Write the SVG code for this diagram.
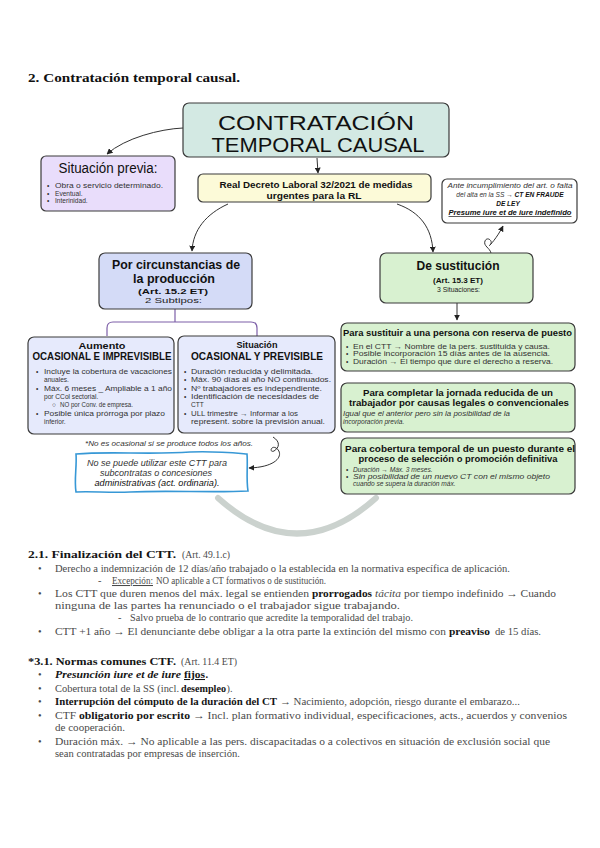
<svg xmlns="http://www.w3.org/2000/svg" width="600" height="848" viewBox="0 0 600 848">
<defs>
<marker id="ah" viewBox="0 0 10 10" refX="9" refY="5" markerWidth="6" markerHeight="6" orient="auto"><path d="M0,0 L10,5 L0,10 z" fill="#222"/></marker>
<style>
.bx{stroke:#3b3b3b;stroke-width:1.2}
.s{font-family:"Liberation Sans",Arial,sans-serif}
.t{font-family:"Liberation Sans",Arial,sans-serif;font-weight:700;fill:#111}
.sm{font-family:"Liberation Sans",Arial,sans-serif;font-size:6.6px;fill:#333}
.c{text-anchor:middle}
.i{font-style:italic}
.b{font-weight:700}
.con{fill:none;stroke:#333;stroke-width:1}
.sf{font-family:"Liberation Serif","Times New Roman",serif;font-size:10.4px;fill:#4a4a4a}
.sb{font-family:"Liberation Serif","Times New Roman",serif;font-size:10.4px;font-weight:700;fill:#151515}
.h{font-family:"Liberation Serif","Times New Roman",serif;font-size:11.3px;font-weight:700;fill:#151515}
.u{text-decoration:underline}
</style>
</defs>
<rect width="600" height="848" fill="#fff"/>

<text x="28" y="82" class="sf" style="font-size:13px;font-weight:700;fill:#111" textLength="212" lengthAdjust="spacingAndGlyphs">2. Contratación temporal causal.</text>

<g id="connectors">
<path class="con" d="M183,128 C160,129 125,138 107,154" marker-end="url(#ah)"/>
<path class="con" d="M317,158 L318,173" marker-end="url(#ah)"/>
<path class="con" d="M228,204 C206,214 193,230 192,251" marker-end="url(#ah)"/>
<path class="con" d="M397,204 C420,212 432,228 433,252" marker-end="url(#ah)"/>
<path class="con" d="M491,253 C490,248 483,246 485,241 C487,236 494,241 490,245 C487,248 496,240 503,226" marker-end="url(#ah)"/>
<path class="con" d="M457,303 L457,320" marker-end="url(#ah)"/>
<path fill="none" stroke="#7d5fa8" stroke-width="1.2" d="M175,309 L175,322 M107,336 L107,328 Q107,322 113,322 L251,322 Q257,322 257,328 L257,336"/>
<path class="con" d="M273,437 C281,442 279,448 274,451 C269,453 271,445 276,448 C284,453 280,467 249,468" marker-end="url(#ah)"/>
<path fill="none" stroke="#cbd2ce" stroke-width="6" stroke-linecap="round" d="M218,498 Q297,569 376,498"/>
</g>

<g id="main">
<rect class="bx" x="183" y="103" width="266" height="54" rx="6" fill="#d3e9e3"/>
<text class="s c" x="316" y="129.5" style="font-size:20px" fill="#111" textLength="196" lengthAdjust="spacingAndGlyphs">CONTRATACIÓN</text>
<text class="s c" x="318" y="152" style="font-size:20px" fill="#111" textLength="213" lengthAdjust="spacingAndGlyphs">TEMPORAL CAUSAL</text>
</g>

<g id="previa">
<rect class="bx" x="41" y="156" width="134" height="55" rx="5" fill="#e9ddfb"/>
<text class="s c" x="108" y="173" style="font-size:14px" fill="#111" textLength="99" lengthAdjust="spacingAndGlyphs">Situación previa:</text>
<text class="sm" x="47" y="188">•</text><text class="sm" x="55" y="188" textLength="108" lengthAdjust="spacingAndGlyphs">Obra o servicio determinado.</text>
<text class="sm" x="47" y="195.5">•</text><text class="sm" x="55" y="195.5">Eventual.</text>
<text class="sm" x="47" y="203">•</text><text class="sm" x="55" y="203">Interinidad.</text>
</g>

<g id="rd">
<rect class="bx" x="198" y="174" width="233" height="28" rx="5" fill="#fcfad8"/>
<text class="t c" x="316" y="188.3" style="font-size:9px" textLength="193" lengthAdjust="spacingAndGlyphs">Real Decreto Laboral 32/2021 de medidas</text>
<text class="t c" x="314" y="198.5" style="font-size:9px" textLength="95" lengthAdjust="spacingAndGlyphs">urgentes para la RL</text>
</g>

<g id="nota">
<rect class="bx" x="442" y="179" width="135" height="44" rx="5" fill="#fff"/>
<text class="s c i" x="510" y="187.5" style="font-size:6.5px" fill="#333" textLength="125" lengthAdjust="spacingAndGlyphs">Ante incumplimiento del art. o falta</text>
<text class="s c i" x="510" y="196.5" style="font-size:6.6px" fill="#333">del alta en la SS → <tspan class="b" fill="#111">CT EN FRAUDE</tspan></text>
<text class="s c i b" x="508" y="205.5" style="font-size:6.5px" fill="#111">DE LEY</text>
<text class="s c i b u" x="510" y="215" style="font-size:6.8px" fill="#111" textLength="123" lengthAdjust="spacingAndGlyphs">Presume iure et de iure indefinido</text>
</g>

<g id="produccion">
<rect class="bx" x="99" y="253" width="153" height="56" rx="6" fill="#d4dbf7"/>
<text class="t c" x="176" y="269" style="font-size:12px" textLength="128" lengthAdjust="spacingAndGlyphs">Por circunstancias de</text>
<text class="t c" x="174" y="282.5" style="font-size:12px" textLength="82" lengthAdjust="spacingAndGlyphs">la producción</text>
<text class="s c b" x="173" y="294" style="font-size:8px" fill="#111" textLength="70" lengthAdjust="spacingAndGlyphs">(Art. 15.2 ET)</text>
<text class="s c" x="173.5" y="303" style="font-size:8px" fill="#222" textLength="57" lengthAdjust="spacingAndGlyphs">2 Subtipos:</text>
</g>

<g id="aumento">
<rect class="bx" x="28" y="337" width="146" height="97" rx="6" fill="#e6eafc"/>
<text class="t c" x="102" y="349" style="font-size:8.5px" textLength="47" lengthAdjust="spacingAndGlyphs">Aumento</text>
<text class="t c" x="102" y="360" style="font-size:10px" textLength="139" lengthAdjust="spacingAndGlyphs">OCASIONAL E IMPREVISIBLE</text>
<text class="sm" x="36" y="374">•</text><text class="sm" x="44" y="374" textLength="128" lengthAdjust="spacingAndGlyphs">Incluye la cobertura de vacaciones</text>
<text class="sm" x="44" y="382.3">anuales.</text>
<text class="sm" x="36" y="390.7">•</text><text class="sm" x="44" y="390.7" textLength="128" lengthAdjust="spacingAndGlyphs">Máx. 6 meses _ Ampliable a 1 año</text>
<text class="sm" x="44" y="399">por CCol sectorial.</text>
<text class="sm" x="52" y="407.3">○</text><text class="sm" x="60" y="407.3" textLength="73" lengthAdjust="spacingAndGlyphs">NO por Conv. de empresa.</text>
<text class="sm" x="36" y="415.7">•</text><text class="sm" x="44" y="415.7" textLength="121" lengthAdjust="spacingAndGlyphs">Posible única prórroga por plazo</text>
<text class="sm" x="44" y="424">inferior.</text>
</g>

<g id="situacion">
<rect class="bx" x="178" y="336" width="157" height="97" rx="6" fill="#e6eafc"/>
<text class="t c" x="257" y="348" style="font-size:8.5px" textLength="41" lengthAdjust="spacingAndGlyphs">Situación</text>
<text class="t c" x="257" y="360" style="font-size:10px" textLength="132" lengthAdjust="spacingAndGlyphs">OCASIONAL Y PREVISIBLE</text>
<text class="sm" x="184" y="374">•</text><text class="sm" x="191" y="374" textLength="122" lengthAdjust="spacingAndGlyphs">Duración reducida y delimitada.</text>
<text class="sm" x="184" y="382.3">•</text><text class="sm" x="191" y="382.3" textLength="140" lengthAdjust="spacingAndGlyphs">Máx. 90 días al año NO continuados.</text>
<text class="sm" x="184" y="390.7">•</text><text class="sm" x="191" y="390.7" textLength="131" lengthAdjust="spacingAndGlyphs">Nº trabajadores es independiente.</text>
<text class="sm" x="184" y="399">•</text><text class="sm" x="191" y="399" textLength="128" lengthAdjust="spacingAndGlyphs">Identificación de necesidades de</text>
<text class="sm" x="191" y="407.3">CTT</text>
<text class="sm" x="184" y="415.7">•</text><text class="sm" x="191" y="415.7" textLength="107" lengthAdjust="spacingAndGlyphs">ULL trimestre → Informar a los</text>
<text class="sm" x="191" y="424" textLength="134" lengthAdjust="spacingAndGlyphs">represent. sobre la previsión anual.</text>
</g>

<text class="sm i c" x="169" y="445.5" textLength="168" lengthAdjust="spacingAndGlyphs">*No es ocasional si se produce todos los años.</text>

<g id="nota-azul">
<path d="M76,454 C110,451 150,455 190,452 C215,451 235,453 247,454 C248,466 246,478 248,491 C210,493 170,490 130,492 C110,493 90,491 76,492 C74,480 77,466 76,454 Z" fill="#fff" stroke="#3798d6" stroke-width="1.6"/>
<text class="s c i" x="157" y="465.5" style="font-size:8.2px" fill="#333" textLength="140" lengthAdjust="spacingAndGlyphs">No se puede utilizar este CTT para</text>
<text class="s c i" x="156" y="475.5" style="font-size:8.2px" fill="#333" textLength="112" lengthAdjust="spacingAndGlyphs">subcontratas o concesiones</text>
<text class="s c i" x="157" y="485.5" style="font-size:8.2px" fill="#111" textLength="125" lengthAdjust="spacingAndGlyphs">administrativas (act. ordinaria).</text>
</g>

<g id="sustitucion">
<rect class="bx" x="380" y="253" width="153" height="50" rx="6" fill="#d8f1d0"/>
<text class="t c" x="458" y="270" style="font-size:13px" textLength="83" lengthAdjust="spacingAndGlyphs">De sustitución</text>
<text class="s c b" x="458" y="283" style="font-size:8px" fill="#111" textLength="50" lengthAdjust="spacingAndGlyphs">(Art. 15.3 ET)</text>
<text class="s c" x="458.5" y="292.3" style="font-size:8px" fill="#222" textLength="43" lengthAdjust="spacingAndGlyphs">3 Situaciones:</text>
</g>

<g id="reserva">
<rect class="bx" x="341" y="323" width="234" height="48" rx="6" fill="#d8f1d0"/>
<text class="t" x="343" y="336" style="font-size:9px" textLength="229" lengthAdjust="spacingAndGlyphs">Para sustituir a una persona con reserva de puesto</text>
<text class="sm" x="346" y="348.5">•</text><text class="sm" x="353" y="348.5" textLength="197" lengthAdjust="spacingAndGlyphs">En el CTT → Nombre de la pers. sustituida y causa.</text>
<text class="sm" x="346" y="356">•</text><text class="sm" x="353" y="356" textLength="197" lengthAdjust="spacingAndGlyphs">Posible incorporación 15 días antes de la ausencia.</text>
<text class="sm" x="346" y="363.5">•</text><text class="sm" x="353" y="363.5" textLength="200" lengthAdjust="spacingAndGlyphs">Duración → El tiempo que dure el derecho a reserva.</text>
</g>

<g id="jornada">
<rect class="bx" x="341" y="383" width="234" height="49" rx="6" fill="#d8f1d0"/>
<text class="t c" x="458" y="396" style="font-size:9px" textLength="190" lengthAdjust="spacingAndGlyphs">Para completar la jornada reducida de un</text>
<text class="t c" x="459" y="406.2" style="font-size:9px" textLength="220" lengthAdjust="spacingAndGlyphs">trabajador por causas legales o convencionales</text>
<text class="sm i" x="343" y="416" textLength="167" lengthAdjust="spacingAndGlyphs">Igual que el anterior pero sin la posibilidad de la</text>
<text class="sm i" x="343" y="424">incorporación previa.</text>
</g>

<g id="cobertura">
<rect class="bx" x="341" y="438" width="234" height="56" rx="6" fill="#d8f1d0"/>
<text class="t c" x="460" y="451.8" style="font-size:9px" textLength="230" lengthAdjust="spacingAndGlyphs">Para cobertura temporal de un puesto durante el</text>
<text class="t c" x="458" y="462" style="font-size:9px" textLength="199" lengthAdjust="spacingAndGlyphs">proceso de selección o promoción definitiva</text>
<text class="sm" x="346" y="472">•</text><text class="sm i" x="353" y="472">Duración → Máx. 3 meses.</text>
<text class="sm" x="346" y="479">•</text><text class="sm i" x="353" y="479" textLength="197" lengthAdjust="spacingAndGlyphs">Sin posibilidad de un nuevo CT con el mismo objeto</text>
<text class="sm i" x="353" y="486">cuando se supera la duración máx.</text>
</g>

<g id="texto">
<text class="h" x="28" y="558" textLength="148" lengthAdjust="spacingAndGlyphs">2.1. Finalización del CTT.</text>
<text class="sf" x="182" y="558" textLength="48" lengthAdjust="spacingAndGlyphs">(Art. 49.1.c)</text>

<text class="sf" x="38" y="572">•</text>
<text class="sf" x="55" y="572" textLength="455" lengthAdjust="spacingAndGlyphs">Derecho a indemnización de 12 días/año trabajado o la establecida en la normativa específica de aplicación.</text>

<text class="sf" x="98" y="584">-</text>
<text class="sf u" x="112" y="584" textLength="41" lengthAdjust="spacingAndGlyphs">Excepción:</text>
<text class="sf" x="156" y="584" textLength="170" lengthAdjust="spacingAndGlyphs">NO aplicable a CT formativos o de sustitución.</text>

<text class="sf" x="38" y="597">•</text>
<text class="sf" x="55" y="597" textLength="254" lengthAdjust="spacingAndGlyphs">Los CTT que duren menos del máx. legal  se entienden</text>
<text class="sb" x="312" y="597" textLength="60" lengthAdjust="spacingAndGlyphs">prorrogados</text>
<text class="sf" x="375" y="597" textLength="26" lengthAdjust="spacingAndGlyphs" font-style="italic">tácita</text>
<text class="sf" x="404" y="597" textLength="152" lengthAdjust="spacingAndGlyphs">por tiempo indefinido → Cuando</text>

<text class="sf" x="55" y="609" textLength="345" lengthAdjust="spacingAndGlyphs">ninguna de las partes ha renunciado o el trabajador sigue trabajando.</text>

<text class="sf" x="118" y="621">-</text>
<text class="sf" x="130" y="621" textLength="283" lengthAdjust="spacingAndGlyphs">Salvo prueba de lo contrario que acredite la temporalidad del trabajo.</text>

<text class="sf" x="38" y="635">•</text>
<text class="sf" x="55" y="635" textLength="391" lengthAdjust="spacingAndGlyphs">CTT +1 año → El denunciante debe obligar a la otra parte la extinción del mismo con</text>
<text class="sb" x="449" y="635" textLength="41" lengthAdjust="spacingAndGlyphs">preaviso</text>
<text class="sf" x="495" y="635" textLength="46" lengthAdjust="spacingAndGlyphs">de 15 días.</text>

<text class="h" x="28" y="665" textLength="148" lengthAdjust="spacingAndGlyphs">*3.1. Normas comunes CTF.</text>
<text class="sf" x="181" y="665" textLength="56" lengthAdjust="spacingAndGlyphs">(Art. 11.4 ET)</text>

<text class="sf" x="38" y="678">•</text>
<text class="sb" x="55" y="678" textLength="126" lengthAdjust="spacingAndGlyphs" font-style="italic">Presunción iure et de iure</text>
<text class="sb u" x="184" y="678" textLength="21" lengthAdjust="spacingAndGlyphs">fijos</text>
<text class="sb" x="205.5" y="678">.</text>

<text class="sf" x="38" y="692">•</text>
<text class="sf" x="55" y="692" textLength="124" lengthAdjust="spacingAndGlyphs">Cobertura total de la SS (incl.</text>
<text class="sb" x="181" y="692" textLength="45" lengthAdjust="spacingAndGlyphs">desempleo</text>
<text class="sf" x="226.5" y="692" textLength="6" lengthAdjust="spacingAndGlyphs">).</text>

<text class="sf" x="38" y="705">•</text>
<text class="sb" x="55" y="705" textLength="222" lengthAdjust="spacingAndGlyphs">Interrupción del cómputo de la duración del CT</text>
<text class="sf" x="280" y="705" textLength="240" lengthAdjust="spacingAndGlyphs">→ Nacimiento, adopción, riesgo durante el embarazo...</text>

<text class="sf" x="38" y="719">•</text>
<text class="sf" x="55" y="719" textLength="21" lengthAdjust="spacingAndGlyphs">CTF</text>
<text class="sb" x="79" y="719" textLength="111" lengthAdjust="spacingAndGlyphs">obligatorio por escrito</text>
<text class="sf" x="193" y="719" textLength="374" lengthAdjust="spacingAndGlyphs">→ Incl. plan formativo individual, especificaciones, acts., acuerdos y convenios</text>
<text class="sf" x="55" y="731" textLength="70" lengthAdjust="spacingAndGlyphs">de cooperación.</text>

<text class="sf" x="38" y="745">•</text>
<text class="sf" x="55" y="745" textLength="495" lengthAdjust="spacingAndGlyphs">Duración máx. → No aplicable a las pers. discapacitadas o a colectivos en situación de exclusión social que</text>
<text class="sf" x="55" y="757" textLength="185" lengthAdjust="spacingAndGlyphs">sean contratadas por empresas de inserción.</text>
</g>
</svg>
